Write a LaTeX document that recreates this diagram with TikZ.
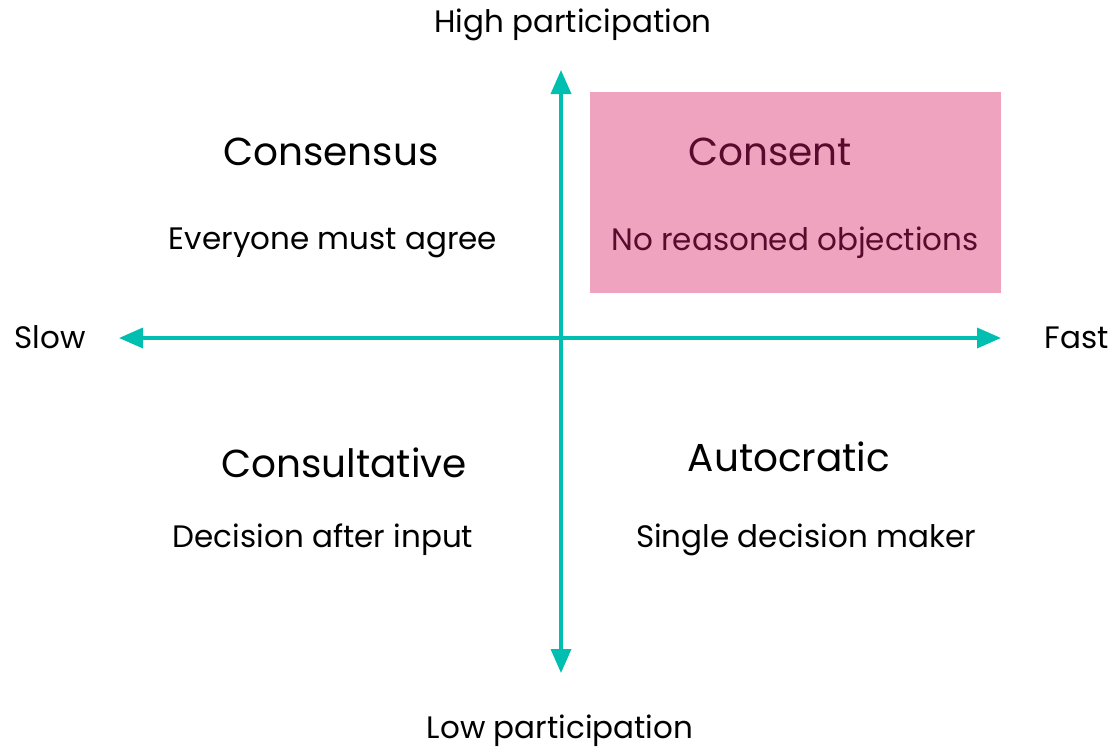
\documentclass[tikz,border=0pt]{standalone}
\usepackage{fontspec}
\setmainfont{Poppins}
\usetikzlibrary{arrows.meta}
\definecolor{axisteal}{HTML}{00BFB0}
\definecolor{consentpink}{HTML}{F0A3BE}
\definecolor{maroon}{HTML}{5A0A2C}
\begin{document}
\begin{tikzpicture}[x=1pt,y=-1pt,
  axis/.style={draw=axisteal,line width=3.5pt,{Triangle[width=20pt,length=24pt]}-{Triangle[width=20pt,length=24pt]}},
  lbl/.style={font=\fontsize{31}{34}\selectfont,inner sep=0pt,yshift=-2.5pt},
  title/.style={font=\fontsize{39}{44}\selectfont,inner sep=0pt,yshift=-2pt},
  pinkbox/.style={fill=consentpink,draw=none}]
\useasboundingbox (0,0) rectangle (1111,750);
\fill[white] (0,0) rectangle (1111,750);
\node[pinkbox,minimum width=411pt,minimum height=201pt,inner sep=0pt] (box) at (795.5,192.5) {};
\coordinate (top) at (561,70);
\coordinate (bottom) at (561,673);
\coordinate (left) at (119,338);
\coordinate (right) at (1001,338);
\draw[axis] (top) -- (bottom);
\draw[axis] (left) -- (right);
\node[lbl] (high) at (573,22) {High participation};
\node[lbl] (low) at (560,728) {Low participation};
\node[lbl] (slow) at (50,335) {Slow};
\node[lbl] (fast) at (1077,335) {Fast};
\node[title] (consensus) at (331,150) {Consensus};
\node[lbl] (agree) at (333,240) {Everyone must agree};
\node[title,text=maroon] (consent) at (770,150) {Consent};
\node[lbl,text=maroon] (noobj) at (795,240) {No reasoned objections};
\node[title] (consult) at (344,461) {Consultative};
\node[lbl] (input) at (323,537) {Decision after input};
\node[title] (auto) at (789,455) {Autocratic};
\node[lbl] (single) at (806,537) {Single decision maker};
\end{tikzpicture}
\end{document}
